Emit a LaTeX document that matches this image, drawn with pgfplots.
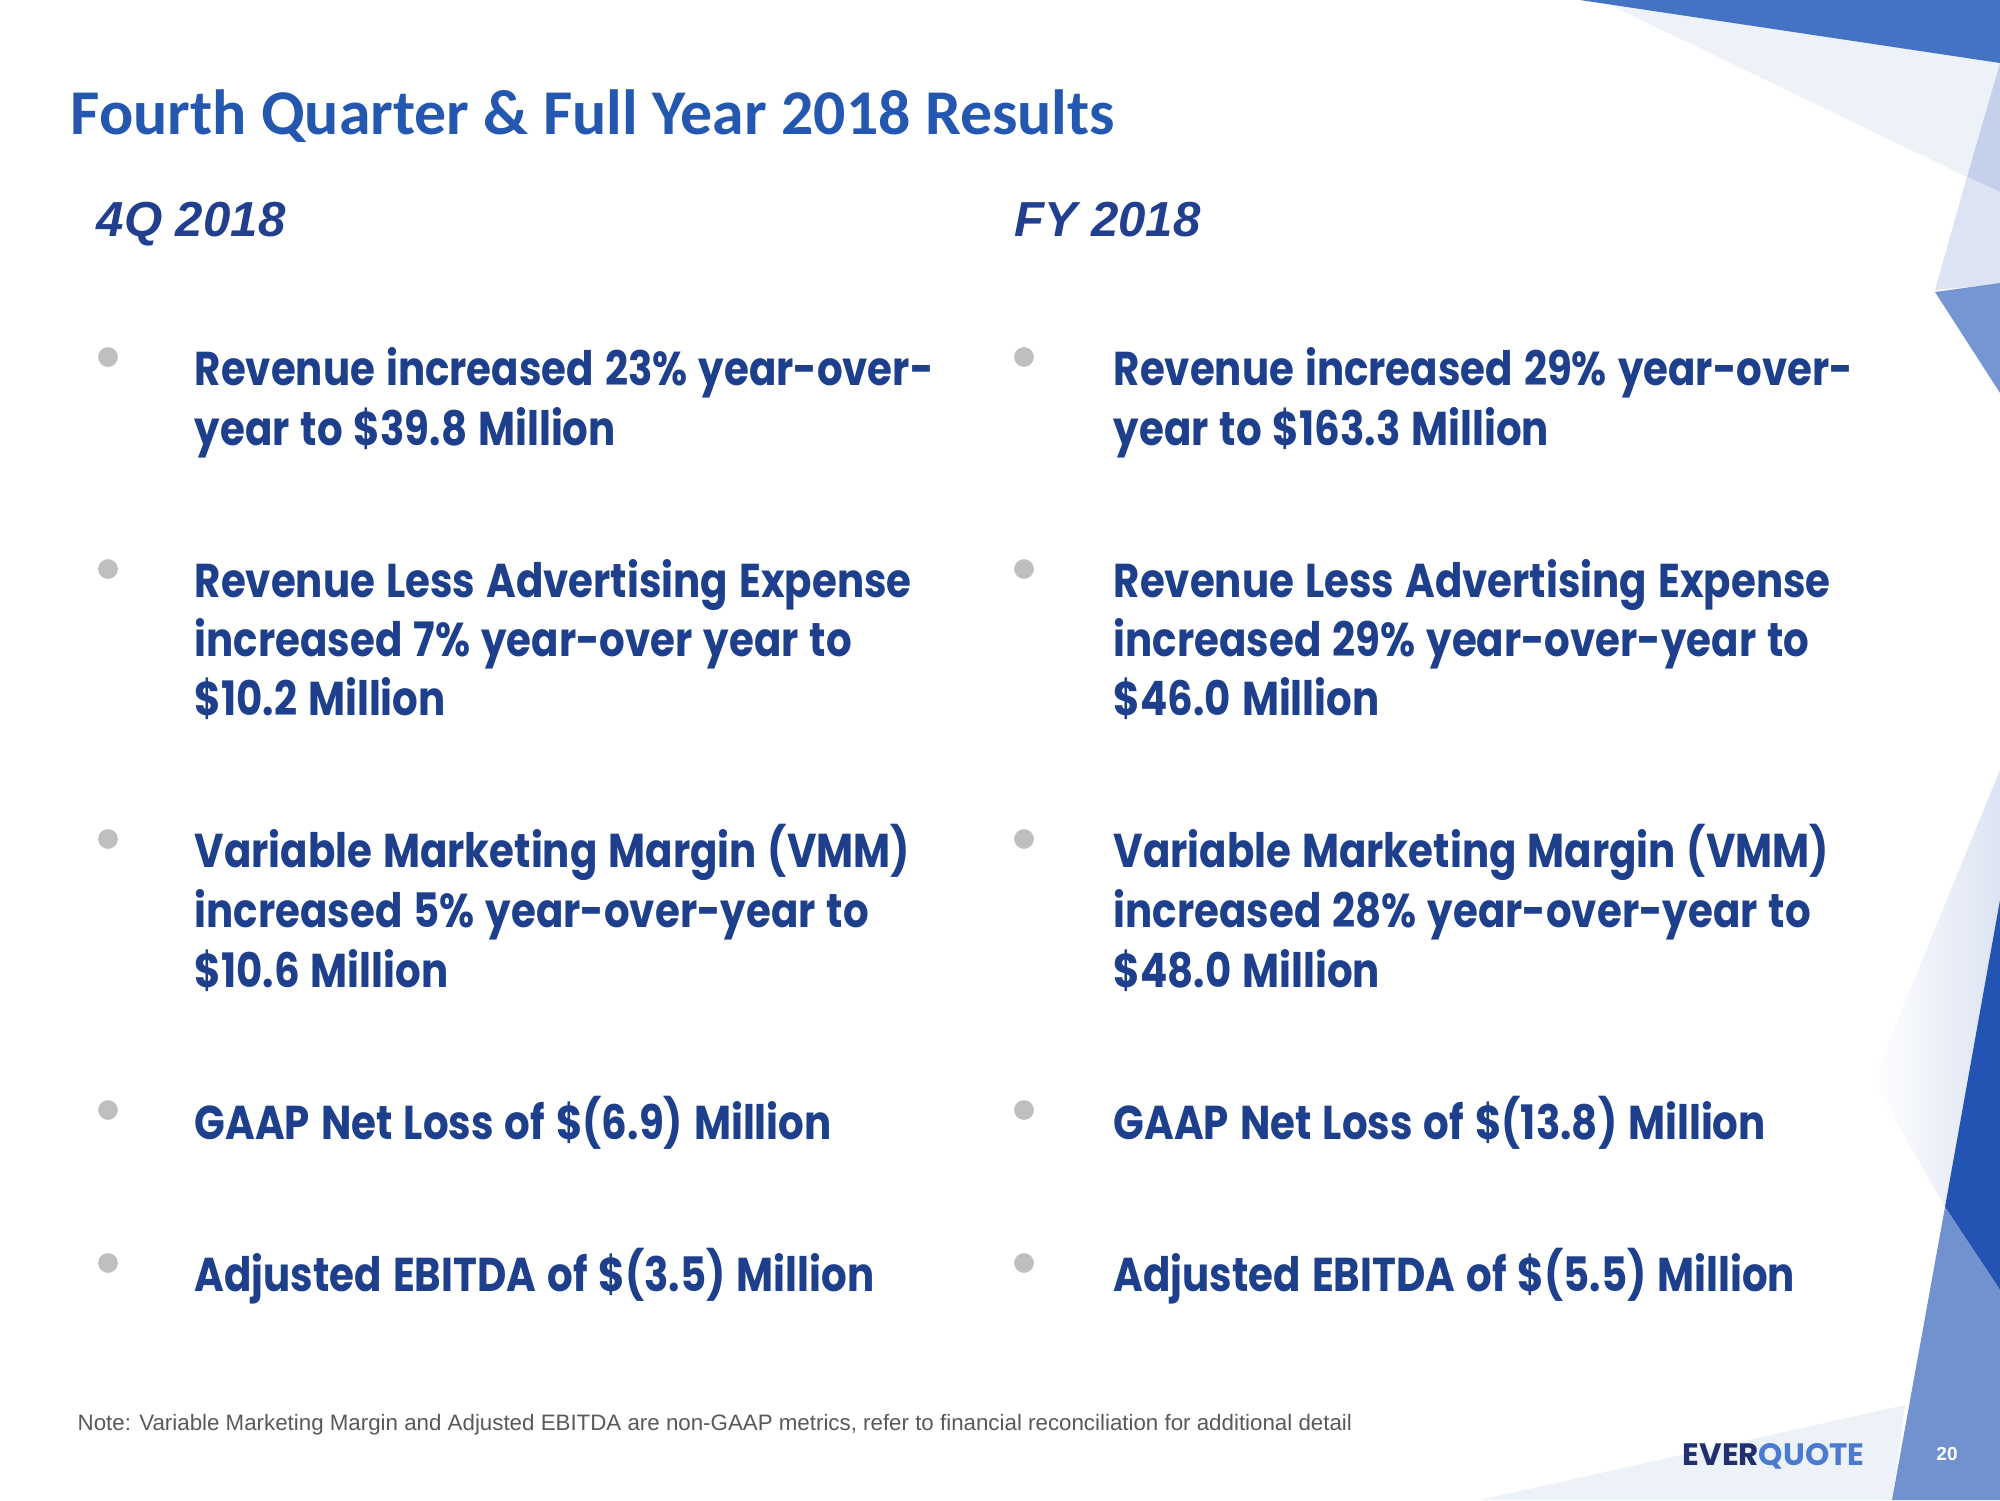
\documentclass[border=0pt]{standalone}
\usepackage{pgfplots}
\pgfplotsset{compat=1.18}
\usepackage{fontspec}
\setmainfont{Liberation Sans}
\newfontfamily\titlefont{Carlito}
\newfontfamily\bodyfont[FakeStretch=0.85, WordSpace=1.3]{Poppins}
\newfontfamily\logofont{Poppins}
\definecolor{titleblue}{HTML}{2457B0}
\definecolor{bodyblue}{HTML}{1D3F8C}
\definecolor{subblue}{HTML}{213F8E}
\definecolor{bulletgray}{HTML}{BFBFBF}
\definecolor{notegray}{HTML}{595959}
\definecolor{darkband}{HTML}{4472C4}
\definecolor{paleband}{HTML}{EDF1F8}
\definecolor{midpale}{HTML}{C5D1EB}
\definecolor{lightpale}{HTML}{DCE3F3}
\definecolor{midblue}{HTML}{7596D2}
\definecolor{deepblue}{HTML}{2454B3}
\definecolor{lowblue}{HTML}{7192CF}
\definecolor{logodark}{HTML}{1F2F6F}
\definecolor{logolight}{HTML}{4A7BD0}
\newcommand{\bl}{\bodyfont\bfseries\fontsize{13.5}{16}\selectfont\color{bodyblue}}
\begin{document}
\begin{tikzpicture}
\begin{axis}[
  width=20cm, height=15cm, scale only axis,
  xmin=0, xmax=2000, ymin=0, ymax=1500, y dir=reverse,
  hide axis, clip=false]
% background
\fill[white] (axis cs:0,0) rectangle (axis cs:2000,1500);
% decorations top right
\fill[paleband] (axis cs:1600,0) -- (axis cs:2000,63) -- (axis cs:1967,177) -- cycle;
\fill[darkband] (axis cs:1580,0) -- (axis cs:2000,0) -- (axis cs:2000,63) -- cycle;
\fill[midpale] (axis cs:2000,63) -- (axis cs:1967,177) -- (axis cs:2000,192) -- cycle;
\fill[lightpale] (axis cs:1967,177) -- (axis cs:1935,290) -- (axis cs:2000,284) -- (axis cs:2000,192) -- cycle;
\fill[midblue] (axis cs:1935,292) -- (axis cs:2000,283) -- (axis cs:2000,393) -- cycle;
% decorations lower right
\shade[left color=white, right color=lightpale] (axis cs:2000,770) -- (axis cs:1873,1080) -- (axis cs:1945,1207) -- (axis cs:2000,1207) -- cycle;
\fill[paleband] (axis cs:1480,1500) -- (axis cs:1905,1405) -- (axis cs:1892,1500) -- cycle;
\fill[deepblue] (axis cs:2000,900) -- (axis cs:1945,1207) -- (axis cs:2000,1290) -- cycle;
\fill[lowblue] (axis cs:1945,1207) -- (axis cs:2000,1290) -- (axis cs:2000,1500) -- (axis cs:1892,1500) -- cycle;
% bullets
\addplot[only marks, mark=*, mark size=2.6pt, color=bulletgray] coordinates {
 (108,357) (108,569) (108,839) (108,1110) (108,1263)
 (1024,357) (1024,569) (1024,839) (1024,1110) (1024,1263)};
% title
\node[anchor=base west, inner sep=0pt, text=titleblue] at (axis cs:70,134)
  {\titlefont\bfseries\fontsize{18.15}{22}\selectfont Fourth Quarter \& Full Year 2018 Results};
\node[anchor=base west, inner sep=0pt, text=subblue] at (axis cs:96,236)
  {\bfseries\itshape\fontsize{14}{17}\selectfont 4Q 2018};
\node[anchor=base west, inner sep=0pt, text=subblue] at (axis cs:1014,236)
  {\bfseries\itshape\fontsize{14}{17}\selectfont FY 2018};
% left column
\node[anchor=base west, inner sep=0pt] at (axis cs:194,385) {\bl Revenue increased 23\% year-over-};
\node[anchor=base west, inner sep=0pt] at (axis cs:194,445) {\bl year to \$39.8 Million};
\node[anchor=base west, inner sep=0pt] at (axis cs:194,597) {\bl Revenue Less Advertising Expense};
\node[anchor=base west, inner sep=0pt] at (axis cs:194,656) {\bl increased 7\% year-over year to};
\node[anchor=base west, inner sep=0pt] at (axis cs:194,715) {\bl \$10.2 Million};
\node[anchor=base west, inner sep=0pt] at (axis cs:194,867) {\bl Variable Marketing Margin (VMM)};
\node[anchor=base west, inner sep=0pt] at (axis cs:194,927) {\bl increased 5\% year-over-year to};
\node[anchor=base west, inner sep=0pt] at (axis cs:194,987) {\bl \$10.6 Million};
\node[anchor=base west, inner sep=0pt] at (axis cs:194,1139) {\bl GAAP Net Loss of \$(6.9) Million};
\node[anchor=base west, inner sep=0pt] at (axis cs:194,1291) {\bl Adjusted EBITDA of \$(3.5) Million};
% right column
\node[anchor=base west, inner sep=0pt] at (axis cs:1113,385) {\bl Revenue increased 29\% year-over-};
\node[anchor=base west, inner sep=0pt] at (axis cs:1113,445) {\bl year to \$163.3 Million};
\node[anchor=base west, inner sep=0pt] at (axis cs:1113,597) {\bl Revenue Less Advertising Expense};
\node[anchor=base west, inner sep=0pt] at (axis cs:1113,656) {\bl increased 29\% year-over-year to};
\node[anchor=base west, inner sep=0pt] at (axis cs:1113,715) {\bl \$46.0 Million};
\node[anchor=base west, inner sep=0pt] at (axis cs:1113,867) {\bl Variable Marketing Margin (VMM)};
\node[anchor=base west, inner sep=0pt] at (axis cs:1113,927) {\bl increased 28\% year-over-year to};
\node[anchor=base west, inner sep=0pt] at (axis cs:1113,987) {\bl \$48.0 Million};
\node[anchor=base west, inner sep=0pt] at (axis cs:1113,1139) {\bl GAAP Net Loss of \$(13.8) Million};
\node[anchor=base west, inner sep=0pt] at (axis cs:1113,1291) {\bl Adjusted EBITDA of \$(5.5) Million};
% note
\node[anchor=base west, inner sep=0pt, text=notegray] at (axis cs:77,1430)
  {\fontsize{6.35}{8}\selectfont Note: Variable Marketing Margin and Adjusted EBITDA are non-GAAP metrics, refer to financial reconciliation for additional detail};
% logo and page number
\node[anchor=base west, inner sep=0pt] at (axis cs:1682,1465)
  {\logofont\bfseries\fontsize{8.8}{10}\selectfont\textcolor{logodark}{EVER}\textcolor{logolight}{QUOTE}};
\node[anchor=base, inner sep=0pt, text=white] at (axis cs:1947,1460)
  {\bfseries\fontsize{5.4}{6.5}\selectfont 20};
\end{axis}
\end{tikzpicture}
\end{document}
